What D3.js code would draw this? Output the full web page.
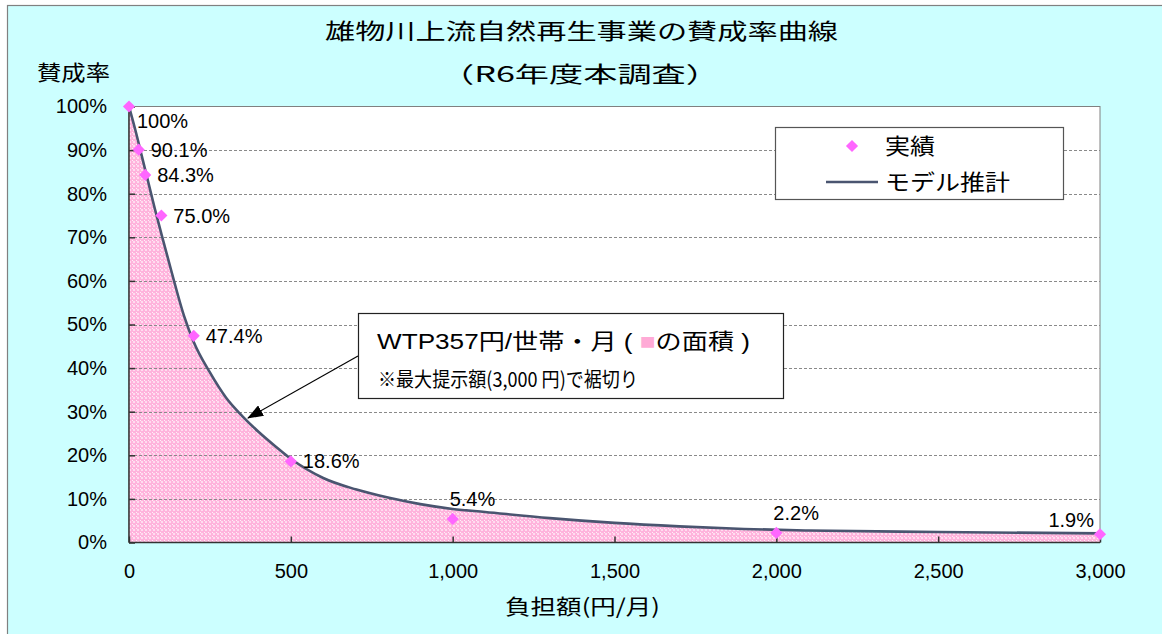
<!doctype html>
<html>
  <head>
    <meta charset="utf-8">
    <script src="https://cdn.jsdelivr.net/npm/d3@7/dist/d3.min.js"></script>
    <style>
    body { margin: 0; background: #fff; }
    text { font-family: "Liberation Sans", "Noto Sans CJK JP", sans-serif; fill: #000; }
    .jp { font-family: "Noto Sans CJK JP", sans-serif; }
    .grid { stroke: #8a8a8a; stroke-width: 1; stroke-dasharray: 3,2; }
    .axis path, .axis line { stroke: #333; stroke-width: 1.5; }
    .axis text { font-size: 20px; }
    </style>
  </head>
  <body>
    <svg id="chart" width="1162" height="634"></svg>
    <script>
      // 実績（提示額とYes率）
      var bidAmounts = [0, 30, 50, 100, 200, 500, 1000, 2000, 3000];
      var yesRates   = [100, 90.1, 84.3, 75.0, 47.4, 18.6, 5.4, 2.2, 1.9];
      var rateLabels = ["100%", "90.1%", "84.3%", "75.0%", "47.4%", "18.6%", "5.4%", "2.2%", "1.9%"];
      var labelPlace = ["top", "right", "right", "right", "right", "right", "above", "above", "left"];

      // モデル推計
      var modelX = [0, 20, 40, 60, 80, 100, 130, 170, 200, 250, 300, 350, 400, 450, 500,
                    600, 700, 800, 900, 1000, 1100, 1300, 1500, 1700, 1900, 2100, 2500, 3000];
      var modelY = [100, 94.5, 88.5, 82.5, 76.5, 70.8, 62.5, 52, 46, 39, 33.2, 29, 25.4, 22.2, 19.2,
                    14.8, 12.2, 10.3, 8.8, 7.7, 7.0, 5.6, 4.5, 3.7, 3.1, 2.75, 2.4, 2.1];

      var xTicks = [0, 500, 1000, 1500, 2000, 2500, 3000];
      var yTicks = [0, 10, 20, 30, 40, 50, 60, 70, 80, 90, 100];

      var svg = d3.select("#chart");

      var plotL = 129, plotR = 1100, plotT = 106.5, plotB = 542.5;
      var x = d3.scaleLinear().domain([0, 3000]).range([plotL, plotR]);
      var y = d3.scaleLinear().domain([0, 100]).range([plotB, plotT]);

      // 外枠
      svg.append("rect")
        .attr("x", 7.5).attr("y", 5.5)
        .attr("width", 1170).attr("height", 650)
        .attr("fill", "#ccffff")
        .attr("stroke", "#808080").attr("stroke-width", 1.2);

      var defs = svg.append("defs");
      var pat = defs.append("pattern")
        .attr("id", "pinkDots")
        .attr("patternUnits", "userSpaceOnUse")
        .attr("width", 4).attr("height", 4);
      pat.append("rect").attr("width", 4).attr("height", 4).attr("fill", "#ffb3dc");
      pat.append("rect").attr("x", 1).attr("y", 1).attr("width", 2).attr("height", 2).attr("fill", "#ffdcef");
      pat.append("rect").attr("x", 0).attr("y", 0).attr("width", 1).attr("height", 1).attr("fill", "#fff0f8");

      defs.append("marker")
        .attr("id", "arrowHead")
        .attr("markerUnits", "userSpaceOnUse")
        .attr("viewBox", "0 0 16 12")
        .attr("refX", 15).attr("refY", 6)
        .attr("markerWidth", 16).attr("markerHeight", 12)
        .attr("orient", "auto")
        .append("path")
          .attr("d", "M0,0 L16,6 L0,12 Z")
          .attr("fill", "#000");

      // プロットエリア
      svg.append("rect")
        .attr("x", plotL).attr("y", plotT)
        .attr("width", plotR - plotL).attr("height", plotB - plotT)
        .attr("fill", "#fff")
        .attr("stroke", "#808080").attr("stroke-width", 1);

      var model = modelX.map((d, i) => ({x: d, y: modelY[i]}));

      var area = d3.area()
        .x(d => x(d.x))
        .y0(y(0))
        .y1(d => y(d.y))
        .curve(d3.curveMonotoneX);

      svg.append("path")
        .datum(model)
        .attr("d", area)
        .attr("fill", "url(#pinkDots)");

      // 目盛線
      svg.selectAll("line.grid")
        .data(yTicks.filter(d => d > 0 && d < 100))
        .enter()
        .append("line")
          .attr("class", "grid")
          .attr("x1", plotL).attr("x2", plotR)
          .attr("y1", d => Math.round(y(d)) + 0.5)
          .attr("y2", d => Math.round(y(d)) + 0.5);

      var line = d3.line()
        .x(d => x(d.x))
        .y(d => y(d.y))
        .curve(d3.curveMonotoneX);

      svg.append("path")
        .datum(model)
        .attr("d", line)
        .attr("fill", "none")
        .attr("stroke", "#4a5570")
        .attr("stroke-width", 2.6);

      // 軸
      svg.append("g")
        .attr("class", "axis")
        .attr("transform", `translate(0,${plotB})`)
        .call(d3.axisBottom(x).tickValues(xTicks).tickFormat(d3.format(",")).tickSize(-6).tickPadding(21))
        .call(g => g.select(".domain").attr("d", `M${plotL},0H${plotR}`));

      svg.append("g")
        .attr("class", "axis")
        .attr("transform", `translate(${plotL},0)`)
        .call(d3.axisLeft(y).tickValues(yTicks).tickFormat(d => d + "%").tickSize(-6).tickPadding(22))
        .call(g => g.select(".domain").attr("d", `M0,${plotT}V${plotB}`));

      // 実績マーカー
      var pts = bidAmounts.map((d, i) => ({x: d, y: yesRates[i], label: rateLabels[i], place: labelPlace[i]}));

      svg.selectAll("path.mark")
        .data(pts)
        .enter()
        .append("path")
          .attr("class", "mark")
          .attr("d", d3.symbol(d3.symbolSquare, 74))
          .attr("transform", d => `translate(${x(d.x)},${y(d.y)}) rotate(45)`)
          .attr("fill", "#ff66ff");

      var offs = {
        top:   {dx: 8,  dy: 21, anchor: "start"},
        right: {dx: 12, dy: 7,  anchor: "start"},
        above: {dx: -3, dy: -13, anchor: "start"},
        left:  {dx: -6, dy: -7, anchor: "end"}
      };

      svg.selectAll("text.lbl")
        .data(pts)
        .enter()
        .append("text")
          .attr("class", "lbl")
          .attr("x", d => x(d.x) + offs[d.place].dx)
          .attr("y", d => y(d.y) + offs[d.place].dy)
          .attr("text-anchor", d => offs[d.place].anchor)
          .style("font-size", "20px")
          .text(d => d.label);

      // タイトル
      svg.append("text")
        .attr("class", "jp")
        .attr("x", 325).attr("y", 39)
        .attr("textLength", 513).attr("lengthAdjust", "spacingAndGlyphs")
        .style("font-size", "22px")
        .text("雄物川上流自然再生事業の賛成率曲線");

      svg.append("text")
        .attr("class", "jp")
        .attr("x", 440).attr("y", 82)
        .attr("textLength", 280).attr("lengthAdjust", "spacingAndGlyphs")
        .style("font-size", "22px")
        .text("（R6年度本調査）");

      svg.append("text")
        .attr("class", "jp")
        .attr("x", 37).attr("y", 80)
        .attr("textLength", 73).attr("lengthAdjust", "spacingAndGlyphs")
        .style("font-size", "21px")
        .text("賛成率");

      svg.append("text")
        .attr("class", "jp")
        .attr("x", 505).attr("y", 614)
        .attr("textLength", 155).attr("lengthAdjust", "spacingAndGlyphs")
        .style("font-size", "21px")
        .text("負担額(円/月)");

      // 凡例
      var legend = svg.append("g");
      legend.append("rect")
        .attr("x", 775.5).attr("y", 127.5)
        .attr("width", 288).attr("height", 72)
        .attr("fill", "#fff")
        .attr("stroke", "#555").attr("stroke-width", 1.2);
      legend.append("path")
        .attr("d", d3.symbol(d3.symbolSquare, 74))
        .attr("transform", "translate(852,146) rotate(45)")
        .attr("fill", "#ff66ff");
      legend.append("text")
        .attr("class", "jp")
        .attr("x", 885).attr("y", 154)
        .attr("textLength", 50).attr("lengthAdjust", "spacingAndGlyphs")
        .style("font-size", "22px")
        .text("実績");
      legend.append("line")
        .attr("x1", 826).attr("x2", 878)
        .attr("y1", 182).attr("y2", 182)
        .attr("stroke", "#4a5570").attr("stroke-width", 2.6);
      legend.append("text")
        .attr("class", "jp")
        .attr("x", 885).attr("y", 190)
        .attr("textLength", 125).attr("lengthAdjust", "spacingAndGlyphs")
        .style("font-size", "22px")
        .text("モデル推計");

      // 注記
      svg.append("line")
        .attr("x1", 358).attr("y1", 356)
        .attr("x2", 248).attr("y2", 418)
        .attr("stroke", "#000").attr("stroke-width", 1.2)
        .attr("marker-end", "url(#arrowHead)");

      svg.append("rect")
        .attr("x", 358.5).attr("y", 313.5)
        .attr("width", 425).attr("height", 85)
        .attr("fill", "#fff")
        .attr("stroke", "#222").attr("stroke-width", 1.2);

      var note = svg.append("text")
        .attr("x", 377).attr("y", 349)
        .attr("textLength", 373).attr("lengthAdjust", "spacingAndGlyphs")
        .style("font-size", "22px");
      note.append("tspan").text("WTP357円/世帯・月 ( ");
      note.append("tspan").attr("fill", "#ffaad6").style("fill", "#ffaad6").text("■");
      note.append("tspan").text("の面積 )");

      svg.append("text")
        .attr("class", "jp")
        .attr("x", 378).attr("y", 387)
        .attr("textLength", 260).attr("lengthAdjust", "spacingAndGlyphs")
        .style("font-size", "20.5px")
        .text("※最大提示額(3,000 円)で裾切り");
    </script>
  </body>
</html>
